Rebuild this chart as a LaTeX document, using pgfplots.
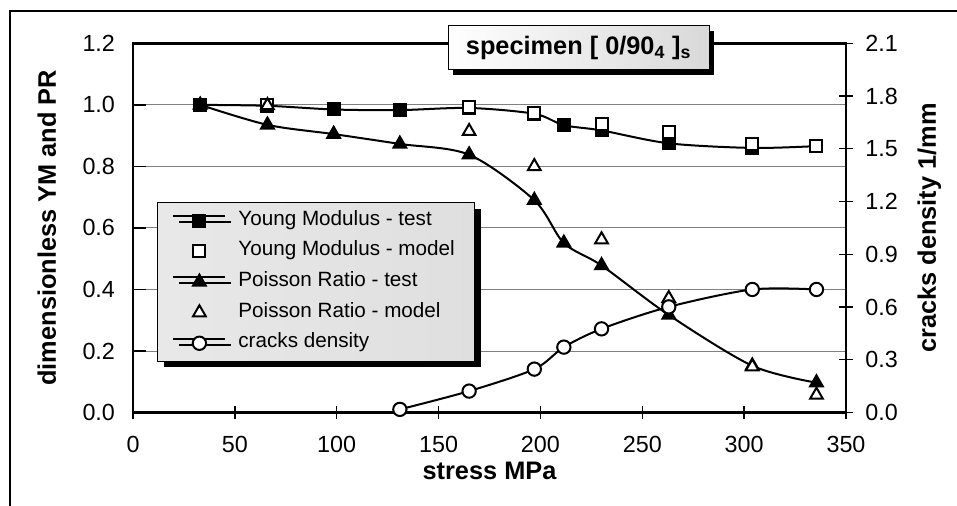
\documentclass[border=0pt]{standalone}
\usepackage{fontspec}
\setmainfont{Liberation Sans}
\usepackage{pgfplots}
\usepackage{pgfplotstable}
\pgfplotsset{compat=1.18}
\usetikzlibrary{shadows}

% stress [MPa] vs dimensionless values
\pgfplotstableread{
x y
33 1.000
66 0.997
98.5 0.985
131 0.983
165 0.990
197 0.971
211.5 0.934
230 0.917
263 0.875
304 0.860
335.5 0.866
}\ymtest
\pgfplotstableread{
x y
66 1.000
165 0.992
197 0.972
230 0.939
263 0.912
304 0.872
335.5 0.866
}\ymmodel
\pgfplotstableread{
x y
33 1.000
66 0.935
98.5 0.905
131 0.873
165 0.838
197 0.690
211.5 0.551
230 0.478
263 0.317
304 0.152
335.5 0.097
}\prtest
\pgfplotstableread{
x y
66 0.998
165 0.914
197 0.800
230 0.562
263 0.371
304 0.149
335.5 0.057
}\prmodel
% cracks density [1/mm]
\pgfplotstableread{
x y
131 0.018
165 0.122
197 0.247
211.5 0.372
230 0.476
263 0.601
304 0.700
335.5 0.700
}\cracks

\pgfplotsset{
  base/.style={
    at={(99.75pt,-309.4pt)}, anchor=south west,
    scale only axis, width=534.75pt, height=276.9pt,
    xmin=0, xmax=350,
    axis line style={line width=2pt},
    tick style={black, line width=1pt},
    major tick length=10pt,
    /pgf/number format/assume math mode=true,
    tick label style={font=\fontsize{17.5}{20}\selectfont},
    label style={font=\bfseries\fontsize{19}{22}\selectfont},
  },
  lin/.style={line width=1.5pt, smooth, black},
  legline/.style={legend image code/.code={%
    \draw[##1, mark=none, sharp plot, yshift=3.5pt] (0pt,0pt) -- (39pt,0pt);
    \path[##1] plot coordinates {(19.5pt,0pt)};}},
  legmark/.style={legend image code/.code={%
    \path[##1] plot coordinates {(19.5pt,0pt)};}},
}

\begin{document}
\begin{tikzpicture}
\useasboundingbox (0pt,0pt) rectangle (717.75pt,-379.5pt);
\draw[line width=1.5pt] (7.5pt,-379.5pt) -- (7.5pt,-8.25pt) -- (717.75pt,-8.25pt);

\begin{axis}[base,
  ymin=0, ymax=1.2,
  xtick={0,50,100,150,200,250,300,350},
  ytick={0,0.2,0.4,0.6,0.8,1.0,1.2},
  xtick pos=bottom, ytick pos=left,
  xtick align=center, ytick align=inside,
  xticklabel shift=9pt, yticklabel shift=10pt,
  yticklabel style={/pgf/number format/.cd, fixed, fixed zerofill, precision=1},
  ymajorgrids, major grid style={gray, line width=0.75pt},
  xlabel={stress MPa},
  ylabel={dimensionless YM and PR},
  ylabel shift=13pt,
]
\addplot[lin, mark=square*, mark size=4.5pt, mark options={fill=black}] table {\ymtest};
\addplot[only marks, black, line width=1.5pt, mark=square*, mark size=4.5pt, mark options={fill=white}] table {\ymmodel};
\addplot[lin, mark=triangle*, mark size=5.5pt, mark options={fill=black}] table {\prtest};
\addplot[only marks, black, line width=1.5pt, mark=triangle*, mark size=5.5pt, mark options={fill=white}] table {\prmodel};
\end{axis}

\begin{axis}[base,
  ymin=0, ymax=2.1,
  axis x line=none, axis y line*=right,
  ytick={0,0.3,0.6,0.9,1.2,1.5,1.8,2.1},
  ytick align=center,
  yticklabel shift=6pt,
  yticklabel style={/pgf/number format/.cd, fixed, fixed zerofill, precision=1},
  ylabel={cracks density 1/mm},
  ylabel shift=8pt,
  legend style={at={(0.034,0.57)}, anchor=north west,
    draw=black, line width=0.75pt,
    left color=gray!18, middle color=white, right color=gray!25,
    drop shadow={shadow xshift=4.5pt, shadow yshift=-4.5pt, fill=black, opacity=1},
    font=\fontsize{15.5}{18}\selectfont,
    inner xsep=11pt, inner ysep=2pt,
    nodes={inner xsep=4pt, inner ysep=3pt, text height=12pt, text depth=5pt},
    cells={anchor=west}, row sep=0pt, column sep=5pt},
]
\addlegendimage{legline, line width=1.5pt, black, mark=square*, mark size=4.5pt, mark options={fill=black}}
\addlegendentry{Young Modulus - test}
\addlegendimage{legmark, line width=1.5pt, black, mark=square*, mark size=4.5pt, mark options={fill=white}}
\addlegendentry{Young Modulus - model}
\addlegendimage{legline, line width=1.5pt, black, mark=triangle*, mark size=5.5pt, mark options={fill=black}}
\addlegendentry{Poisson Ratio - test}
\addlegendimage{legmark, line width=1.5pt, black, mark=triangle*, mark size=5.5pt, mark options={fill=white}}
\addlegendentry{Poisson Ratio - model}
\addplot[lin, legline, mark=*, mark size=5pt, mark options={fill=white}] table {\cracks};
\addlegendentry{cracks density}
\end{axis}

\node[draw=black, line width=0.75pt, left color=white, right color=gray!30,
  drop shadow={shadow xshift=4pt, shadow yshift=-4pt, fill=black, opacity=1},
  minimum width=195.75pt, minimum height=33pt, inner sep=0pt,
  font=\bfseries\fontsize{19}{22}\selectfont] at (433.9pt,-36pt)
  {specimen [ 0/90\textsubscript{4} ]\textsubscript{s}};
\end{tikzpicture}
\end{document}
